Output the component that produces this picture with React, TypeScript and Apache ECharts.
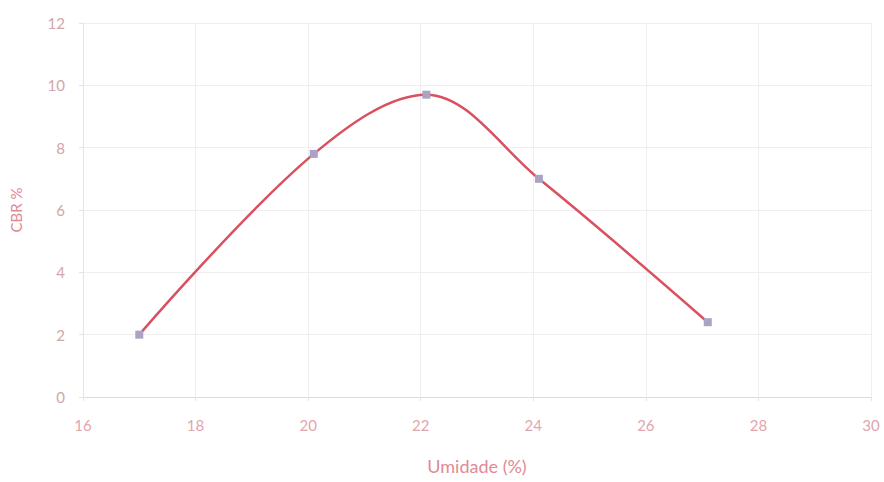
import React, { useEffect, useRef } from "react";
import * as echarts from "echarts";

const umidade = [17.0, 20.1, 22.1, 24.1, 27.1];
const cbr = [2.0, 7.8, 9.7, 7.0, 2.4];
const xMin = 16;
const xMax = 30;
const xStep = 2;
const yMin = 0;
const yMax = 12;
const yStep = 2;
const xTitle = "Umidade (%)";
const yTitle = "CBR %";

export default function App() {
  const ref = useRef<HTMLDivElement>(null);
  useEffect(() => {
    if (!ref.current) return;
    const chart = echarts.init(ref.current, undefined, { renderer: "svg" });
    const font = "Lato, 'Open Sans', sans-serif";
    chart.setOption({
      animation: false,
      backgroundColor: "#ffffff",
      grid: { left: 82, right: 13, top: 23, bottom: 85 },
      xAxis: {
        type: "value",
        min: xMin,
        max: xMax,
        interval: xStep,
        name: xTitle,
        nameLocation: "middle",
        nameGap: 60,
        nameTextStyle: { color: "#df8a94", fontSize: 18, fontFamily: font },
        axisLine: { show: true, lineStyle: { color: "#dcdcdc", width: 1 } },
        axisTick: { show: true, length: 4, lineStyle: { color: "#e4e4e4" } },
        axisLabel: { color: "#e0a6ac", fontSize: 15, margin: 20, fontFamily: font },
        splitLine: { show: true, lineStyle: { color: "#f0eeee", width: 1 } },
      },
      yAxis: {
        type: "value",
        min: yMin,
        max: yMax,
        interval: yStep,
        name: yTitle,
        nameLocation: "middle",
        nameGap: 60,
        nameRotate: 90,
        nameTextStyle: { color: "#df8a94", fontSize: 15, fontFamily: font },
        axisLine: { show: true, lineStyle: { color: "#e4e4e4", width: 1 } },
        axisTick: { show: true, length: 4, lineStyle: { color: "#e4e4e4" } },
        axisLabel: { color: "#cfa6aa", fontSize: 15, margin: 18, fontFamily: font },
        splitLine: { show: true, lineStyle: { color: "#f0eeee", width: 1 } },
      },
      series: [
        {
          type: "line",
          data: umidade.map((x, i) => [x, cbr[i]]),
          smooth: 0.35,
          symbol: "rect",
          symbolSize: 8,
          itemStyle: { color: "#aaa3c4", borderWidth: 0 },
          lineStyle: { color: "#d9505e", width: 2.5 },
          z: 3,
        },
      ],
    });
    return () => chart.dispose();
  }, []);
  return (
    <div
      ref={ref}
      style={{ position: "fixed", left: 0, top: 0, width: 884, height: 482, background: "#fff" }}
    />
  );
}
